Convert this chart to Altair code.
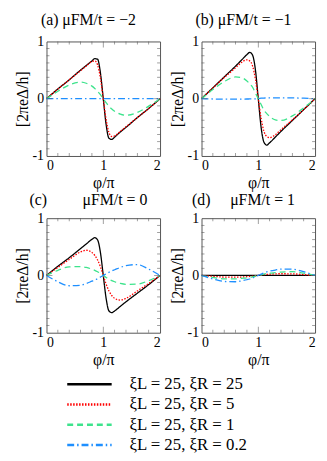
import altair as alt
import pandas as pd

# phase grid (in units of pi)
PHI = [0, 0.2, 0.4, 0.6, 0.7, 0.8, 0.85, 0.9, 0.95, 1.0, 1.05, 1.1, 1.15, 1.2, 1.3, 1.4, 1.6, 1.8, 2.0]

SERIES = ["ξL = 25, ξR = 25", "ξL = 25, ξR = 5", "ξL = 25, ξR = 1", "ξL = 25, ξR = 0.2"]
COLORS = ["#000000", "#ff0000", "#3de38c", "#1e8fff"]
DASHES = [[1, 0], [1.5, 1.5], [6, 4], [7, 3, 1.5, 3]]

# panel (a) mu/t = -2
a_black = [0, 0.17, 0.33, 0.50, 0.58, 0.66, 0.70, 0.69, 0.45, 0, -0.45, -0.69, -0.71, -0.67, -0.58, -0.50, -0.33, -0.17, 0]
a_red   = [0, 0.17, 0.33, 0.49, 0.57, 0.65, 0.66, 0.59, 0.36, 0, -0.36, -0.59, -0.66, -0.65, -0.57, -0.49, -0.33, -0.17, 0]
a_green = [0, 0.13, 0.24, 0.29, 0.27, 0.22, 0.18, 0.13, 0.07, 0, -0.07, -0.13, -0.18, -0.22, -0.27, -0.29, -0.24, -0.13, 0]
a_blue  = [0, 0, 0, 0, 0, 0, 0, 0, 0, 0, 0, 0, 0, 0, 0, 0, 0, 0, 0]

# panel (b) mu/t = -1
b_black = [0, 0.19, 0.38, 0.57, 0.67, 0.77, 0.81, 0.76, 0.50, 0, -0.50, -0.76, -0.81, -0.77, -0.67, -0.57, -0.38, -0.19, 0]
b_red   = [0, 0.19, 0.37, 0.54, 0.63, 0.68, 0.66, 0.57, 0.34, 0, -0.34, -0.57, -0.66, -0.68, -0.63, -0.54, -0.37, -0.19, 0]
b_green = [0, 0.16, 0.30, 0.38, 0.37, 0.31, 0.26, 0.20, 0.10, 0, -0.10, -0.20, -0.26, -0.31, -0.37, -0.38, -0.30, -0.16, 0]
b_blue  = [0, -0.005, -0.008, -0.008, -0.007, -0.005, -0.004, -0.003, -0.002, 0, 0.01, 0.012, 0.014, 0.015, 0.016, 0.016, 0.014, 0.01, 0]

# panel (c) mu/t = 0
c_black = [0, 0.16, 0.31, 0.47, 0.55, 0.63, 0.66, 0.62, 0.40, 0, -0.40, -0.62, -0.65, -0.62, -0.54, -0.46, -0.31, -0.16, 0]
c_red   = [0, 0.14, 0.28, 0.41, 0.44, 0.40, 0.35, 0.27, 0.15, 0, -0.15, -0.27, -0.35, -0.40, -0.43, -0.40, -0.27, -0.14, 0]
c_green = [0, 0.09, 0.15, 0.155, 0.14, 0.11, 0.09, 0.065, 0.035, 0, -0.035, -0.065, -0.09, -0.11, -0.14, -0.155, -0.15, -0.09, 0]
c_blue  = [0, -0.11, -0.18, -0.17, -0.14, -0.10, -0.08, -0.055, -0.028, 0, 0.028, 0.055, 0.08, 0.10, 0.14, 0.17, 0.19, 0.11, 0]

# panel (d) mu/t = 1
d_black = [0, 0, 0, 0, 0, 0, 0, 0, 0, 0, 0, 0, 0, 0, 0, 0, 0, 0, 0]
d_red   = [0, -0.015, -0.028, -0.03, -0.028, -0.022, -0.018, -0.013, -0.007, 0, 0.007, 0.013, 0.018, 0.022, 0.028, 0.03, 0.028, 0.015, 0]
d_green = [0, -0.035, -0.06, -0.06, -0.05, -0.04, -0.033, -0.024, -0.012, 0, 0.012, 0.024, 0.033, 0.04, 0.05, 0.06, 0.065, 0.04, 0]
d_blue  = [0, -0.06, -0.105, -0.11, -0.095, -0.075, -0.062, -0.045, -0.023, 0, 0.023, 0.045, 0.062, 0.075, 0.095, 0.11, 0.11, 0.065, 0]

NB = "\u00a0"
TITLES = ["(a) μFM/t = −2", "(b) μFM/t = −1",
          "(c)" + NB * 9 + "μFM/t = 0", "(d)" + NB * 5 + "μFM/t = 1"]

X_MINOR = [0.2, 0.4, 0.6, 0.8, 1.2, 1.4, 1.6, 1.8]
X_MAJOR = [1.0]
Y_MINOR = [-0.875, -0.75, -0.625, -0.5, -0.375, -0.25, -0.125, 0.125, 0.25, 0.375, 0.5, 0.625, 0.75, 0.875]
Y_MAJOR = [0.0]

W, H = 115, 116
FONT = "Liberation Serif, DejaVu Serif, serif"
FRAME = "#555555"

COLOR_SCALE = alt.Scale(domain=SERIES, range=COLORS)
DASH_SCALE = alt.Scale(domain=SERIES, range=DASHES)


def panel(title, curves, toff=7):
    rows = []
    for name, ys in zip(SERIES, curves):
        for p, v in zip(PHI, ys):
            rows.append({"phi": p, "I": v, "series": name})
    df = pd.DataFrame(rows)

    xs = alt.Scale(domain=[0, 2], nice=False, zero=False)
    ysc = alt.Scale(domain=[-1, 1], nice=False, zero=False)
    xaxis = alt.Axis(values=[0, 1, 2], title="φ/π", labelExpr="'' + datum.value")
    yaxis = alt.Axis(values=[-1, 0, 1], title="[2πeΔ/h]", labelExpr="'' + datum.value")

    lines = alt.Chart(df).mark_line(strokeWidth=1.3, interpolate="monotone").encode(
        x=alt.X("phi:Q", scale=xs, axis=xaxis),
        y=alt.Y("I:Q", scale=ysc, axis=yaxis),
        color=alt.Color("series:N", scale=COLOR_SCALE, legend=None),
        strokeDash=alt.StrokeDash("series:N", scale=DASH_SCALE, legend=None),
    )

    layers = [lines]
    for vals, size in ((Y_MINOR, 3), (Y_MAJOR, 6)):
        tdf = pd.DataFrame({"v": vals})
        for xpos in (size / 2, W - size / 2):
            layers.append(alt.Chart(tdf).mark_tick(size=size, thickness=0.8, color=FRAME).encode(
                y=alt.Y("v:Q", scale=ysc, axis=yaxis), x=alt.value(xpos)))
    for vals, size in ((X_MINOR, 3), (X_MAJOR, 6)):
        tdf = pd.DataFrame({"v": vals})
        for ypos in (size / 2, H - size / 2):
            layers.append(alt.Chart(tdf).mark_tick(size=size, thickness=0.8, color=FRAME).encode(
                x=alt.X("v:Q", scale=xs, axis=xaxis), y=alt.value(ypos)))

    return alt.layer(*layers).properties(
        width=W, height=H,
        title=alt.Title(title, font=FONT, fontSize=16, fontWeight="normal", offset=toff,
                        anchor="middle", frame="bounds"),
    )


pa = panel(TITLES[0], [a_black, a_red, a_green, a_blue])
pb = panel(TITLES[1], [b_black, b_red, b_green, b_blue])
pc = panel(TITLES[2], [c_black, c_red, c_green, c_blue], toff=3)
pd_ = panel(TITLES[3], [d_black, d_red, d_green, d_blue], toff=3)

# manual legend
ldf = pd.DataFrame({"series": SERIES})
ly = alt.Y("series:N", scale=alt.Scale(domain=SERIES, paddingInner=0, paddingOuter=0), axis=None)
leg_lines = alt.Chart(ldf).mark_rule(strokeWidth=2.4).encode(
    x=alt.value(21), x2=alt.value(66), y=ly,
    color=alt.Color("series:N", scale=COLOR_SCALE, legend=None),
    strokeDash=alt.StrokeDash("series:N", scale=DASH_SCALE, legend=None),
)
leg_text = alt.Chart(ldf).mark_text(align="left", baseline="middle", font=FONT, fontSize=17, color="#000").encode(
    x=alt.value(84), y=ly, text="series:N",
)
legend = alt.layer(leg_lines, leg_text).properties(width=240, height=82, view=alt.ViewConfig(stroke=None))

chart = alt.vconcat(
    alt.vconcat(
        alt.hconcat(pa, pb, spacing=4),
        alt.hconcat(pc, pd_, spacing=4),
        spacing=0,
    ),
    legend,
    spacing=6,
).properties(
    padding={"left": 5, "top": 0, "right": 0, "bottom": 0}
).resolve_scale(y="independent", x="independent").configure_view(
    stroke=FRAME, strokeWidth=1
).configure_axis(
    labelFont=FONT, labelFontSize=14, labelColor="#000",
    titleFont=FONT, titleFontSize=16, titleFontWeight="normal", titleColor="#000",
    ticks=False, domain=False, grid=False, labelPadding=3, titlePadding=2,
)

chart.save("out.html", embed_options={"renderer": "svg", "actions": False})
